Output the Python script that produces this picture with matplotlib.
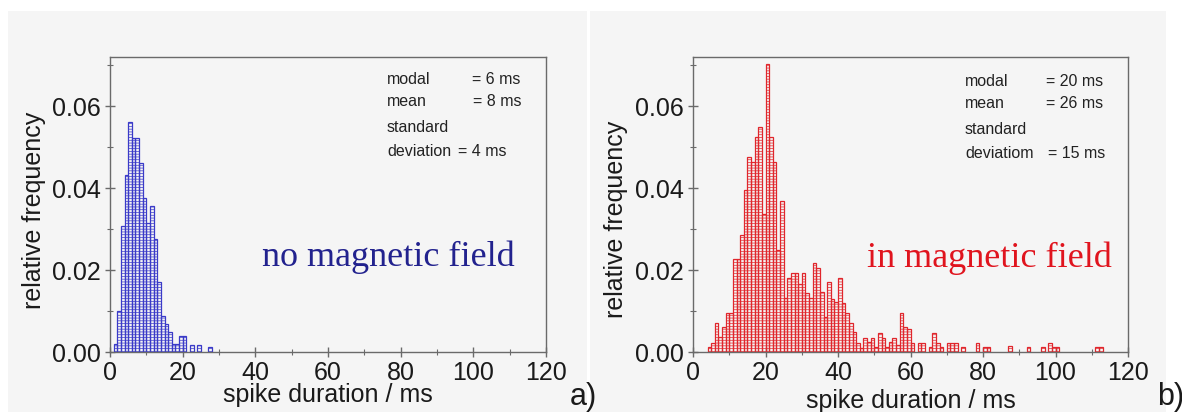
import matplotlib
matplotlib.use("Agg")
import matplotlib.pyplot as plt
from matplotlib.patches import Rectangle
from matplotlib.ticker import MultipleLocator

# ---------------- data ----------------
# panel a) no magnetic field : bin start (ms, 1 ms bins) and relative frequency
bins_a = [1, 2, 3, 4, 5, 6, 7, 8, 9, 10, 11, 12, 13, 14, 15, 16, 17, 18, 19, 20, 22, 24, 27]
freq_a = [0.0020, 0.0099, 0.0307, 0.0431, 0.0562, 0.0523, 0.0523, 0.0462, 0.0376,
          0.0316, 0.0356, 0.0277, 0.0170, 0.0089, 0.0068, 0.0050, 0.0020, 0.0020,
          0.0040, 0.0040, 0.0016, 0.0016, 0.0011]

# panel b) in magnetic field
bins_b = [4, 5, 6, 7, 8, 9, 10, 11, 12, 13, 14, 15, 16, 17, 18, 19, 20, 21, 22, 23,
          24, 25, 26, 27, 28, 29, 30, 31, 32, 33, 34, 35, 36, 37, 38, 39, 40, 41, 42,
          43, 44, 45, 46, 47, 48, 49, 50, 51, 52, 53, 54, 55, 56, 57, 58, 59, 60, 62,
          63, 65, 66, 67, 68, 70, 71, 72, 74, 78, 80, 81, 87, 92, 96, 98, 99, 100,
          111, 112]
freq_b = [0.0013, 0.0023, 0.0072, 0.0036, 0.0060, 0.0094, 0.0094, 0.0226, 0.0226,
          0.0285, 0.0395, 0.0476, 0.0464, 0.0524, 0.0548, 0.0337, 0.0704, 0.0524,
          0.0463, 0.0249, 0.0369, 0.0131, 0.0180, 0.0193, 0.0193, 0.0167, 0.0193,
          0.0145, 0.0131, 0.0218, 0.0204, 0.0147, 0.0086, 0.0170, 0.0130, 0.0123,
          0.0180, 0.0120, 0.0096, 0.0072, 0.0050, 0.0023, 0.0010, 0.0035, 0.0025,
          0.0035, 0.0013, 0.0047, 0.0033, 0.0013, 0.0025, 0.0035, 0.0017, 0.0096,
          0.0060, 0.0057, 0.0023, 0.0022, 0.0022, 0.0013, 0.0047, 0.0023, 0.0013,
          0.0023, 0.0023, 0.0023, 0.0013, 0.0023, 0.0013, 0.0013, 0.0015, 0.0013,
          0.0013, 0.0023, 0.0013, 0.0013, 0.0013, 0.0013]

xticks = [0, 20, 40, 60, 80, 100, 120]
yticks = [0.00, 0.02, 0.04, 0.06]
stats_a = [("modal", "= 6 ms"), ("mean", "= 8 ms"), ("standard", ""), ("deviation", "= 4 ms")]
stats_b = [("modal", "= 20 ms"), ("mean", "= 26 ms"), ("standard", ""), ("deviatiom", "= 15 ms")]

# ---------------- figure ----------------
plt.rcParams['font.family'] = ['Liberation Sans', 'DejaVu Sans']
plt.rcParams['hatch.linewidth'] = 0.5

W, H = 1182, 412
fig = plt.figure(figsize=(W / 100, H / 100), dpi=100)
fig.patch.set_facecolor('white')

# light grey panels (behind the axes)
panel_col = '#f5f5f5'
for x0, x1 in [(8, 587), (590, 1166)]:
    fig.add_artist(Rectangle((x0 / W, 0), (x1 - x0) / W, (H - 11) / H,
                             transform=fig.transFigure, facecolor=panel_col,
                             edgecolor='none', zorder=-10))

bottom = (H - 352) / H
height = (352 - 57) / H
ax_a = fig.add_axes([110 / W, bottom, (546 - 110) / W, height])
ax_b = fig.add_axes([693 / W, bottom, (1128 - 693) / W, height])

def style(ax):
    ax.set_facecolor(panel_col)
    ax.set_xlim(0, 120)
    ax.set_ylim(0, 0.072)
    ax.set_xticks(xticks)
    ax.set_yticks(yticks)
    ax.set_yticklabels([f"{v:.2f}" for v in yticks])
    ax.xaxis.set_minor_locator(MultipleLocator(10))
    ax.yaxis.set_minor_locator(MultipleLocator(0.01))
    for s in ax.spines.values():
        s.set_color('#6a6a6a')
        s.set_linewidth(1.0)
    ax.tick_params(which='major', direction='inout', length=7, width=1.0,
                   color='#6a6a6a', labelsize=18, labelcolor='#1a1a1a', pad=3)
    ax.tick_params(which='minor', direction='inout', length=4, width=0.8,
                   color='#6a6a6a')
    ax.set_xlabel("spike duration / ms", fontsize=18, color='#1a1a1a', labelpad=0)
    ax.set_ylabel("relative frequency", fontsize=18, color='#1a1a1a')

style(ax_a)
style(ax_b)

ax_a.bar(bins_a, freq_a, width=1.0, align='edge', facecolor='none',
         edgecolor='#3a3ac8', linewidth=0.9, hatch='------', zorder=2)
ax_b.bar(bins_b, freq_b, width=1.0, align='edge', facecolor='none',
         edgecolor='#e0262c', linewidth=0.9, hatch='------', zorder=2)

ax_a.yaxis.set_label_coords(-0.147, 0.48)
ax_b.yaxis.set_label_coords(-0.149, 0.45)
ax_a.xaxis.set_label_coords(0.5, -0.105)
ax_b.xaxis.set_label_coords(0.5, -0.125)

# statistics text (figure pixel positions)
def fig_text(x, y, s, **kw):
    fig.text(x / W, 1 - y / H, s, va='center', **kw)

ys_a = [79, 102, 127, 151]
for (lab, val), y, xv in zip(stats_a, ys_a, [472, 473, 0, 458]):
    fig_text(387, y, lab, fontsize=11.5, color='#222222')
    if val:
        fig_text(xv, y, val, fontsize=11.5, color='#222222')

ys_b = [81, 104, 129, 153]
for (lab, val), y, xv in zip(stats_b, ys_b, [1046, 1046, 0, 1048]):
    fig_text(965, y, lab, fontsize=11.5, color='#222222')
    if val:
        fig_text(xv, y, val, fontsize=11.5, color='#222222')

fig_text(262, 257, "no magnetic field", fontsize=26, color='#22228e',
         family=['Liberation Serif'])
fig_text(867, 258, "in magnetic field", fontsize=26, color='#e0141e',
         family=['Liberation Serif'])

fig_text(570, 397, "a)", fontsize=22, color='#1a1a1a')
fig_text(1157, 397, "b)", fontsize=22, color='#1a1a1a')

fig.savefig("out.png", dpi=100, facecolor='white')
